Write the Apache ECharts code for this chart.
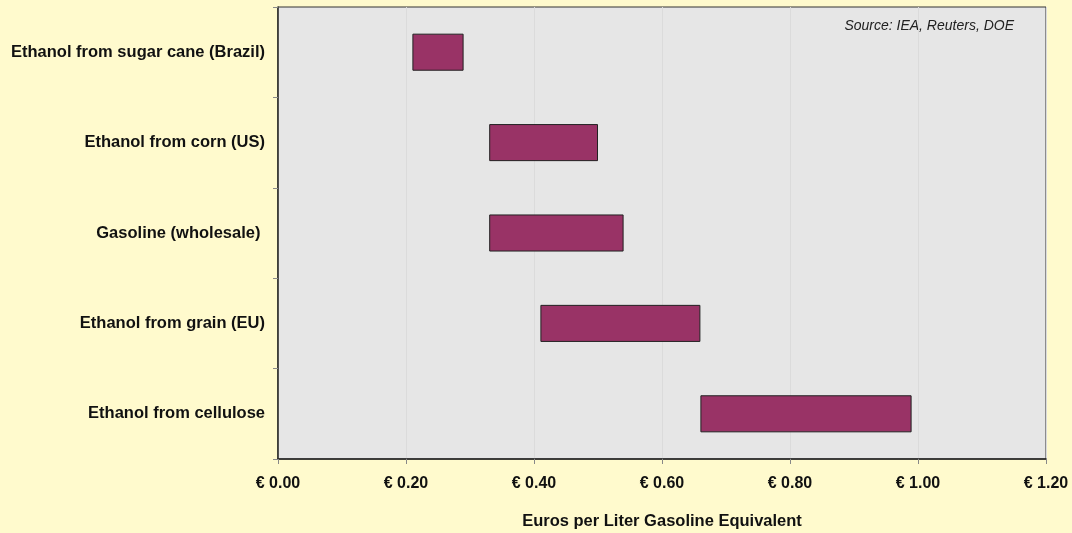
<!DOCTYPE html>
<html lang="en">
<head>
    <meta charset="UTF-8">
    <title>Ethanol cost ranges</title>
    <script src="https://cdn.jsdelivr.net/npm/echarts@6/dist/echarts.min.js"></script>
    <style>
        html, body { margin: 0; padding: 0; background: #FFFACD; }
        #main { width: 1072px; height: 533px; }
    </style>
</head>
<body>
<div id="main"></div>
<script type="text/javascript">
    // top to bottom as in the picture
    const categories = [
        'Ethanol from sugar cane (Brazil)',
        'Ethanol from corn (US)',
        'Gasoline (wholesale) ',
        'Ethanol from grain (EU)',
        'Ethanol from cellulose'
    ]
    const lowCost = [0.21, 0.33, 0.33, 0.41, 0.66]
    const highCost = [0.29, 0.50, 0.54, 0.66, 0.99]
    const xTicks = [0, 0.2, 0.4, 0.6, 0.8, 1.0, 1.2]

    // floating bars: transparent base + visible spread
    const spread = highCost.map((h, i) => +(h - lowCost[i]).toFixed(2))

    const font = '"Liberation Sans", Arial, sans-serif'

    let chart = echarts.init(document.getElementById('main'))
    chart.setOption({
        backgroundColor: '#FFFACD',
        animation: false,
        grid: {
            left: 278, top: 7, right: 26, bottom: 74,
            outerBoundsMode: 'none',
            containLabel: false,
            show: true,
            backgroundColor: '#E6E6E6',
            borderColor: '#333',
            borderWidth: 1
        },
        graphic: [{
            type: 'text',
            right: 58, top: 19,
            style: {
                text: 'Source: IEA, Reuters, DOE',
                font: 'italic 14px ' + font,
                fill: '#222'
            }
        }],
        xAxis: {
            type: 'value',
            min: xTicks[0],
            max: xTicks[xTicks.length - 1],
            interval: 0.2,
            name: 'Euros per Liter Gasoline Equivalent',
            nameLocation: 'middle',
            nameGap: 54,
            nameTextStyle: {
                fontFamily: font, fontWeight: 'bold', fontSize: 16.5, color: '#111'
            },
            axisLine: { show: true, lineStyle: { color: '#222', width: 1.5 } },
            axisTick: { show: true, length: 5, lineStyle: { color: '#888' } },
            splitLine: { show: true, lineStyle: { color: '#DBDBDB', width: 1 } },
            axisLabel: {
                margin: 17,
                fontFamily: font, fontWeight: 'bold', fontSize: 16, color: '#111',
                formatter: v => '€ ' + v.toFixed(2)
            }
        },
        yAxis: {
            type: 'category',
            data: categories,
            inverse: true,
            axisLine: { show: true, lineStyle: { color: '#222', width: 1.5 } },
            axisTick: { show: true, length: 5, lineStyle: { color: '#888' } },
            axisLabel: {
                margin: 13,
                padding: [10, 0, 0, 0],
                fontFamily: font, fontWeight: 'bold', fontSize: 16.5, color: '#111'
            }
        },
        series: [
            {
                type: 'bar',
                stack: 'cost',
                data: lowCost,
                barWidth: '41%',
                itemStyle: { color: 'transparent' },
                silent: true
            },
            {
                type: 'bar',
                stack: 'cost',
                data: spread,
                barWidth: '41%',
                itemStyle: { color: '#993366', borderColor: '#222', borderWidth: 1 }
            }
        ]
    })
</script>
</body>
</html>
